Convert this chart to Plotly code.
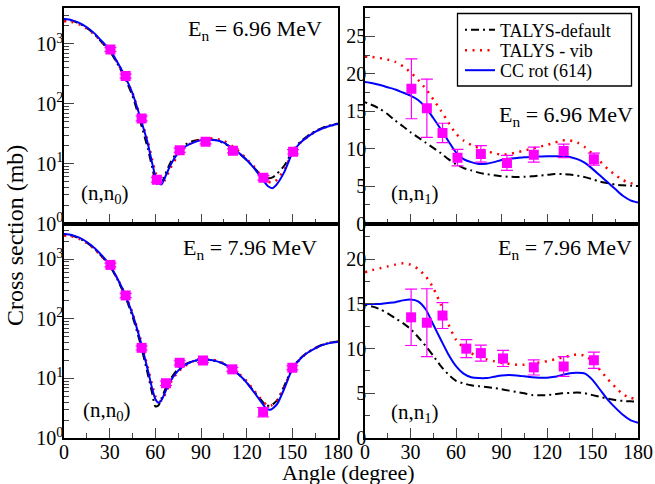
import plotly.graph_objects as go

W, H = 655, 484
FONT = "Liberation Serif, Times New Roman, serif"

# ---------------- data ----------------
# top-left: (n,n0), En = 6.96 MeV (log scale)
ang_tl = [0, 5, 10, 15, 20, 25, 30, 35, 40, 45, 50, 55, 58, 60, 62, 64, 66, 70, 75, 80, 85, 90, 95,
          100, 105, 110, 115, 120, 125, 130, 134, 137, 140, 145, 150, 155, 160, 165, 170, 175, 180]
cc_tl = [2600, 2500, 2250, 1900, 1500, 1100, 800, 500, 290, 150, 60, 22, 10, 6.2, 4.8, 4.5, 5.6, 9.5, 15,
         19.5, 22.5, 24.5, 25, 24.5, 22.5, 18.5, 15, 11.5, 8.3, 5.6, 4.2, 3.9, 4.6, 7.5, 15, 22, 28, 34, 39, 43, 46]
def_tl = [2550, 2450, 2200, 1850, 1450, 1050, 760, 470, 270, 135, 52, 18, 8.5, 5.2, 4.3, 4.6, 6.2, 10.5, 16.5,
          21, 24, 25.5, 25.5, 24.5, 22, 18.5, 15, 11.5, 8.5, 6.3, 5.7, 5.9, 6.8, 9.5, 16, 23, 29, 35, 40, 44, 47]
vib_tl = [2400, 2330, 2120, 1800, 1430, 1060, 780, 490, 285, 150, 62, 24, 11.5, 7.2, 5.4, 4.8, 5.2, 8.5, 14,
          19.5, 23, 25.5, 26.5, 26, 24, 20, 16, 12, 8.8, 6.0, 5.0, 4.8, 5.4, 8.2, 15, 22, 28, 34, 39, 43, 46]
exp_ang_t = [30.5, 40.5, 51, 61, 76, 93, 111, 131, 150.5]
exp_tl = [810, 290, 57, 5.4, 16.8, 23.2, 16.4, 5.8, 15.8]
err_tl = [60, 22, 5, 0.5, 1.4, 1.8, 1.3, 0.5, 1.3]

# bottom-left: (n,n0), En = 7.96 MeV (log scale)
ang_bl = [0, 5, 10, 15, 20, 25, 30, 35, 40, 45, 50, 55, 58, 60, 62, 64, 67, 70, 75, 80, 85, 90, 95,
          100, 105, 110, 115, 120, 125, 130, 133, 136, 140, 145, 150, 155, 160, 165, 170, 175, 180]
cc_bl = [2650, 2550, 2300, 1950, 1550, 1150, 810, 480, 260, 120, 45, 14, 6.6, 4.5, 3.9, 4.3, 6.3, 9, 13.5,
         17, 19.5, 20.5, 20.5, 19.5, 17.5, 14.5, 11.5, 8.5, 5.8, 3.9, 3.1, 3.0, 3.7, 7, 14.5, 21, 27, 32, 36.5, 39.5, 41]
def_bl = [2600, 2500, 2250, 1900, 1500, 1100, 780, 460, 245, 110, 40, 12, 5.5, 3.4, 3.5, 4.6, 7, 9.8, 14.5,
          17.5, 19.5, 20.5, 20.5, 19.5, 17.5, 14.5, 11.5, 8.5, 6, 4.2, 3.5, 3.5, 4.3, 7.8, 15, 21.5, 27.5, 32.5, 37, 40, 41.5]
vib_bl = [2500, 2420, 2200, 1870, 1480, 1100, 790, 475, 265, 125, 48, 15.5, 7.6, 5.0, 4.2, 4.2, 5.8, 8.5, 13,
          16.5, 19.5, 21, 21, 20, 18, 15, 12, 9, 6.2, 4.3, 3.6, 3.5, 4.2, 7.5, 14.5, 21, 27, 32, 36.5, 40, 41.5]
exp_ang_b = [30.5, 40.5, 51, 67, 76, 91.3, 110.6, 130.8, 150]
exp_bl = [804, 247, 32.6, 8.3, 18.3, 20, 14.2, 2.75, 15.1]
err_bl = [60, 20, 2.6, 0.7, 1.5, 1.6, 1.1, 0.5, 1.2]

# right panels: (n,n1) linear scale
ang_r = [0, 5, 10, 15, 20, 25, 30, 35, 40, 45, 50, 55, 60, 65, 70, 75, 80, 85, 90,
         95, 100, 105, 110, 115, 120, 125, 130, 135, 140, 145, 150, 155, 160, 165, 170, 175, 180]
cc_tr = [18.9, 18.75, 18.5, 18.2, 17.9, 17.5, 17.1, 16.5, 15.5, 14.1, 12.6, 11.0, 9.5, 8.6, 8.2, 7.95, 8.0, 8.2, 8.5,
         8.65, 8.75, 8.85, 8.9, 8.95, 9.0, 9.0, 9.0, 8.9, 8.6, 8.1, 7.3, 6.4, 5.5, 4.6, 3.7, 3.1, 2.8]
def_tr = [16.2, 15.8, 15.3, 14.6, 13.75, 13.0, 12.2, 11.5, 10.8, 10.1, 9.4, 8.6, 7.9, 7.4, 7.1, 6.8, 6.6, 6.45, 6.3,
          6.25, 6.2, 6.25, 6.3, 6.4, 6.5, 6.6, 6.6, 6.55, 6.4, 6.2, 5.9, 5.6, 5.4, 5.2, 5.1, 5.05, 5.0]
vib_tr = [22.3, 22.25, 22.1, 21.9, 21.6, 21.0, 20.2, 19.2, 18.0, 16.6, 15.1, 13.5, 12.0, 11.1, 10.5, 10.1, 9.7, 9.4, 9.2,
          9.3, 9.5, 9.75, 10.0, 10.25, 10.5, 10.8, 11.1, 11.1, 10.8, 10.2, 9.3, 8.3, 7.3, 6.5, 5.8, 5.4, 5.2]
exp_ang_tr = [30.6, 40.8, 51.1, 61, 76.4, 93.6, 111.3, 131, 150.9]
exp_tr = [18.0, 15.4, 12.1, 8.8, 9.3, 8.1, 9.2, 9.7, 8.6]
err_tr = [4.0, 3.9, 1.3, 1.1, 1.1, 1.0, 1.0, 0.9, 0.8]

cc_br = [15.0, 15.0, 15.0, 15.1, 15.2, 15.4, 15.5, 15.3, 14.4, 12.7, 11.0, 9.35, 8.05, 7.2, 6.8, 6.7, 6.7, 6.85, 7.0,
         7.05, 7.0, 6.9, 6.8, 6.75, 6.75, 6.85, 7.05, 7.25, 7.3, 7.2, 6.5, 5.4, 4.3, 3.4, 2.6, 2.0, 1.7]
def_br = [14.9, 14.7, 14.4, 13.95, 13.4, 12.85, 12.2, 11.3, 10.3, 9.2, 8.05, 7.1, 6.4, 6.1, 5.9, 5.8, 5.7, 5.6, 5.45,
          5.3, 5.15, 5.0, 4.8, 4.78, 4.8, 4.9, 5.0, 5.05, 5.1, 5.0, 4.8, 4.6, 4.4, 4.25, 4.15, 4.1, 4.1]
vib_br = [18.55, 18.8, 19.0, 19.2, 19.4, 19.55, 19.4, 18.9, 18.1, 16.8, 14.9, 12.7, 11.0, 10.1, 9.5, 9.1, 8.8, 8.6, 8.4,
          8.3, 8.2, 8.2, 8.3, 8.45, 8.6, 8.8, 9.0, 9.2, 9.35, 9.2, 8.6, 7.6, 6.6, 5.7, 4.9, 4.5, 4.3]
exp_ang_br = [30.4, 40.8, 51.1, 66.8, 76.4, 91, 111.3, 131, 150.9]
exp_br = [13.5, 12.9, 13.7, 10.0, 9.5, 8.9, 7.9, 8.0, 8.7]
err_br = [3.15, 3.8, 1.45, 1.0, 0.9, 0.9, 0.85, 1.1, 0.9]

series_names = ["TALYS-default", "TALYS - vib", "CC rot (614)"]
energy_labels = ["E<sub>n</sub> = 6.96 MeV", "E<sub>n</sub> = 7.96 MeV"]
x_ticks = [0, 30, 60, 90, 120, 150, 180]
log_ticks = [1, 10, 100, 1000]
log_text = ["10<sup>0</sup>", "10<sup>1</sup>", "10<sup>2</sup>", "10<sup>3</sup>"]

# ---------------- figure ----------------
def px(x):
    return x / W

def py(y):
    return 1 - y / H

fig = go.Figure()

panels = [
    ("x", "y", ang_tl, def_tl, vib_tl, cc_tl, exp_ang_t, exp_tl, err_tl),
    ("x2", "y2", ang_r, def_tr, vib_tr, cc_tr, exp_ang_tr, exp_tr, err_tr),
    ("x3", "y3", ang_bl, def_bl, vib_bl, cc_bl, exp_ang_b, exp_bl, err_bl),
    ("x4", "y4", ang_r, def_br, vib_br, cc_br, exp_ang_br, exp_br, err_br),
]

styles = [
    dict(color="black", width=2, dash="2px,4px,8px,4px"),
    dict(color="#ff0000", width=2.5, dash="2px,5.5px"),
    dict(color="#0000ff", width=2),
]
legend_ids = ["legend", "legend2", "legend3"]

for i, (xa, ya, ang, d, v, c, ea, ev, ee) in enumerate(panels):
    for j, (vals, st) in enumerate(zip([d, v, c], styles)):
        fig.add_trace(go.Scatter(
            x=ang, y=vals, xaxis=xa, yaxis=ya, mode="lines",
            line=dict(shape="spline", smoothing=0.6, **st),
            name=series_names[j], showlegend=(i == 1), legend=legend_ids[j],
        ))
    fig.add_trace(go.Scatter(
        x=ea, y=ev, xaxis=xa, yaxis=ya, mode="markers",
        marker=dict(symbol="square", size=10, color="#ff00ff"),
        error_y=dict(type="data", array=ee, color="#ff00ff", thickness=1.2, width=6),
        showlegend=False,
    ))

xl = [px(64), px(338)]
xr = [px(365), px(638)]
yt = [py(223.5), py(8)]
yb = [py(438), py(223.5)]

common_x = dict(range=[0, 180], tickvals=x_ticks, ticks="inside", ticklen=10, tickwidth=1.3,
                minor=dict(ticks="inside", ticklen=5, dtick=15, tick0=0, tickwidth=1.3),
                showline=True, linecolor="black", linewidth=1.5, mirror=True,
                showgrid=False, zeroline=False, automargin=False, ticklabelstandoff=-5,
                tickfont=dict(family=FONT, size=20, color="black"))
common_y = dict(ticks="inside", ticklen=10, tickwidth=1.3,
                showline=True, linecolor="black", linewidth=1.5, mirror=True,
                showgrid=False, zeroline=False, automargin=False,
                tickfont=dict(family=FONT, size=20, color="black"))
log_y = dict(type="log", range=[0, 3.6], tickvals=log_ticks, ticktext=log_text, ticklabelstandoff=-5,
             minor=dict(ticks="inside", ticklen=5, tickwidth=1.3, dtick="D1"))
lin_minor = dict(ticks="inside", ticklen=5, dtick=2.5, tick0=0, tickwidth=1.3)

leg_common = dict(xanchor="left", yanchor="middle", bgcolor="rgba(0,0,0,0)", borderwidth=0,
                  font=dict(family=FONT, size=18, color="black"), itemwidth=30)

fig.update_layout(
    width=W, height=H, margin=dict(l=0, r=0, t=0, b=0, pad=0, autoexpand=False),
    autosize=False,
    paper_bgcolor="white", plot_bgcolor="white",
    font=dict(family=FONT, size=20, color="black"),
    xaxis=dict(domain=xl, anchor="y", showticklabels=False, **common_x),
    xaxis2=dict(domain=xr, anchor="y2", showticklabels=False, **common_x),
    xaxis3=dict(domain=xl, anchor="y3", **common_x),
    xaxis4=dict(domain=xr, anchor="y4", **common_x),
    yaxis=dict(domain=yt, anchor="x", **log_y, **common_y),
    yaxis3=dict(domain=yb, anchor="x3", **log_y, **common_y),
    yaxis2=dict(domain=yt, anchor="x2", range=[0, 28.8], dtick=5, tick0=0, ticklabelstandoff=-7,
                minor=lin_minor, **common_y),
    yaxis4=dict(domain=yb, anchor="x4", range=[0, 24], dtick=5, tick0=0, ticklabelstandoff=-7,
                minor=lin_minor, **common_y),
    legend=dict(x=px(460), y=py(30), **leg_common),
    legend2=dict(x=px(460), y=py(50.5), **leg_common),
    legend3=dict(x=px(460), y=py(70.5), **leg_common),
    showlegend=True,
)

# legend frame
fig.add_shape(type="rect", xref="paper", yref="paper", x0=px(457.5), x1=px(631.5), y0=py(86), y1=py(13.5),
              line=dict(color="black", width=1.3), fillcolor="white", layer="above")

ann = [
    (energy_labels[0], px(324), py(30), "right", 22),
    (energy_labels[0], px(635), py(116), "right", 22),
    (energy_labels[1], px(319), py(249), "right", 22),
    (energy_labels[1], px(634), py(249), "right", 22),
    ("(n,n<sub>0</sub>)", px(79), py(194), "left", 21),
    ("(n,n<sub>0</sub>)", px(81), py(411), "left", 21),
    ("(n,n<sub>1</sub>)", px(389), py(194), "left", 21),
    ("(n,n<sub>1</sub>)", px(389), py(413), "left", 21),
]
for text, x, y, xa, fs in ann:
    fig.add_annotation(text=text, x=x, y=y, xref="paper", yref="paper", xanchor=xa, yanchor="middle",
                       showarrow=False, font=dict(family=FONT, size=fs, color="black"))

fig.add_annotation(text="Angle (degree)", x=px(348), y=py(472), xref="paper", yref="paper",
                   xanchor="center", yanchor="middle", showarrow=False,
                   font=dict(family=FONT, size=22, color="black"))
fig.add_annotation(text="Cross section (mb)", x=px(15), y=py(236), xref="paper", yref="paper",
                   xanchor="center", yanchor="middle", textangle=-90, showarrow=False,
                   font=dict(family=FONT, size=24, color="black"))

fig.write_html("out.html", config={"displayModeBar": False, "responsive": False},
               post_script="document.body.style.margin='0';document.body.style.padding='0';"
                           "document.body.style.overflow='hidden';")
